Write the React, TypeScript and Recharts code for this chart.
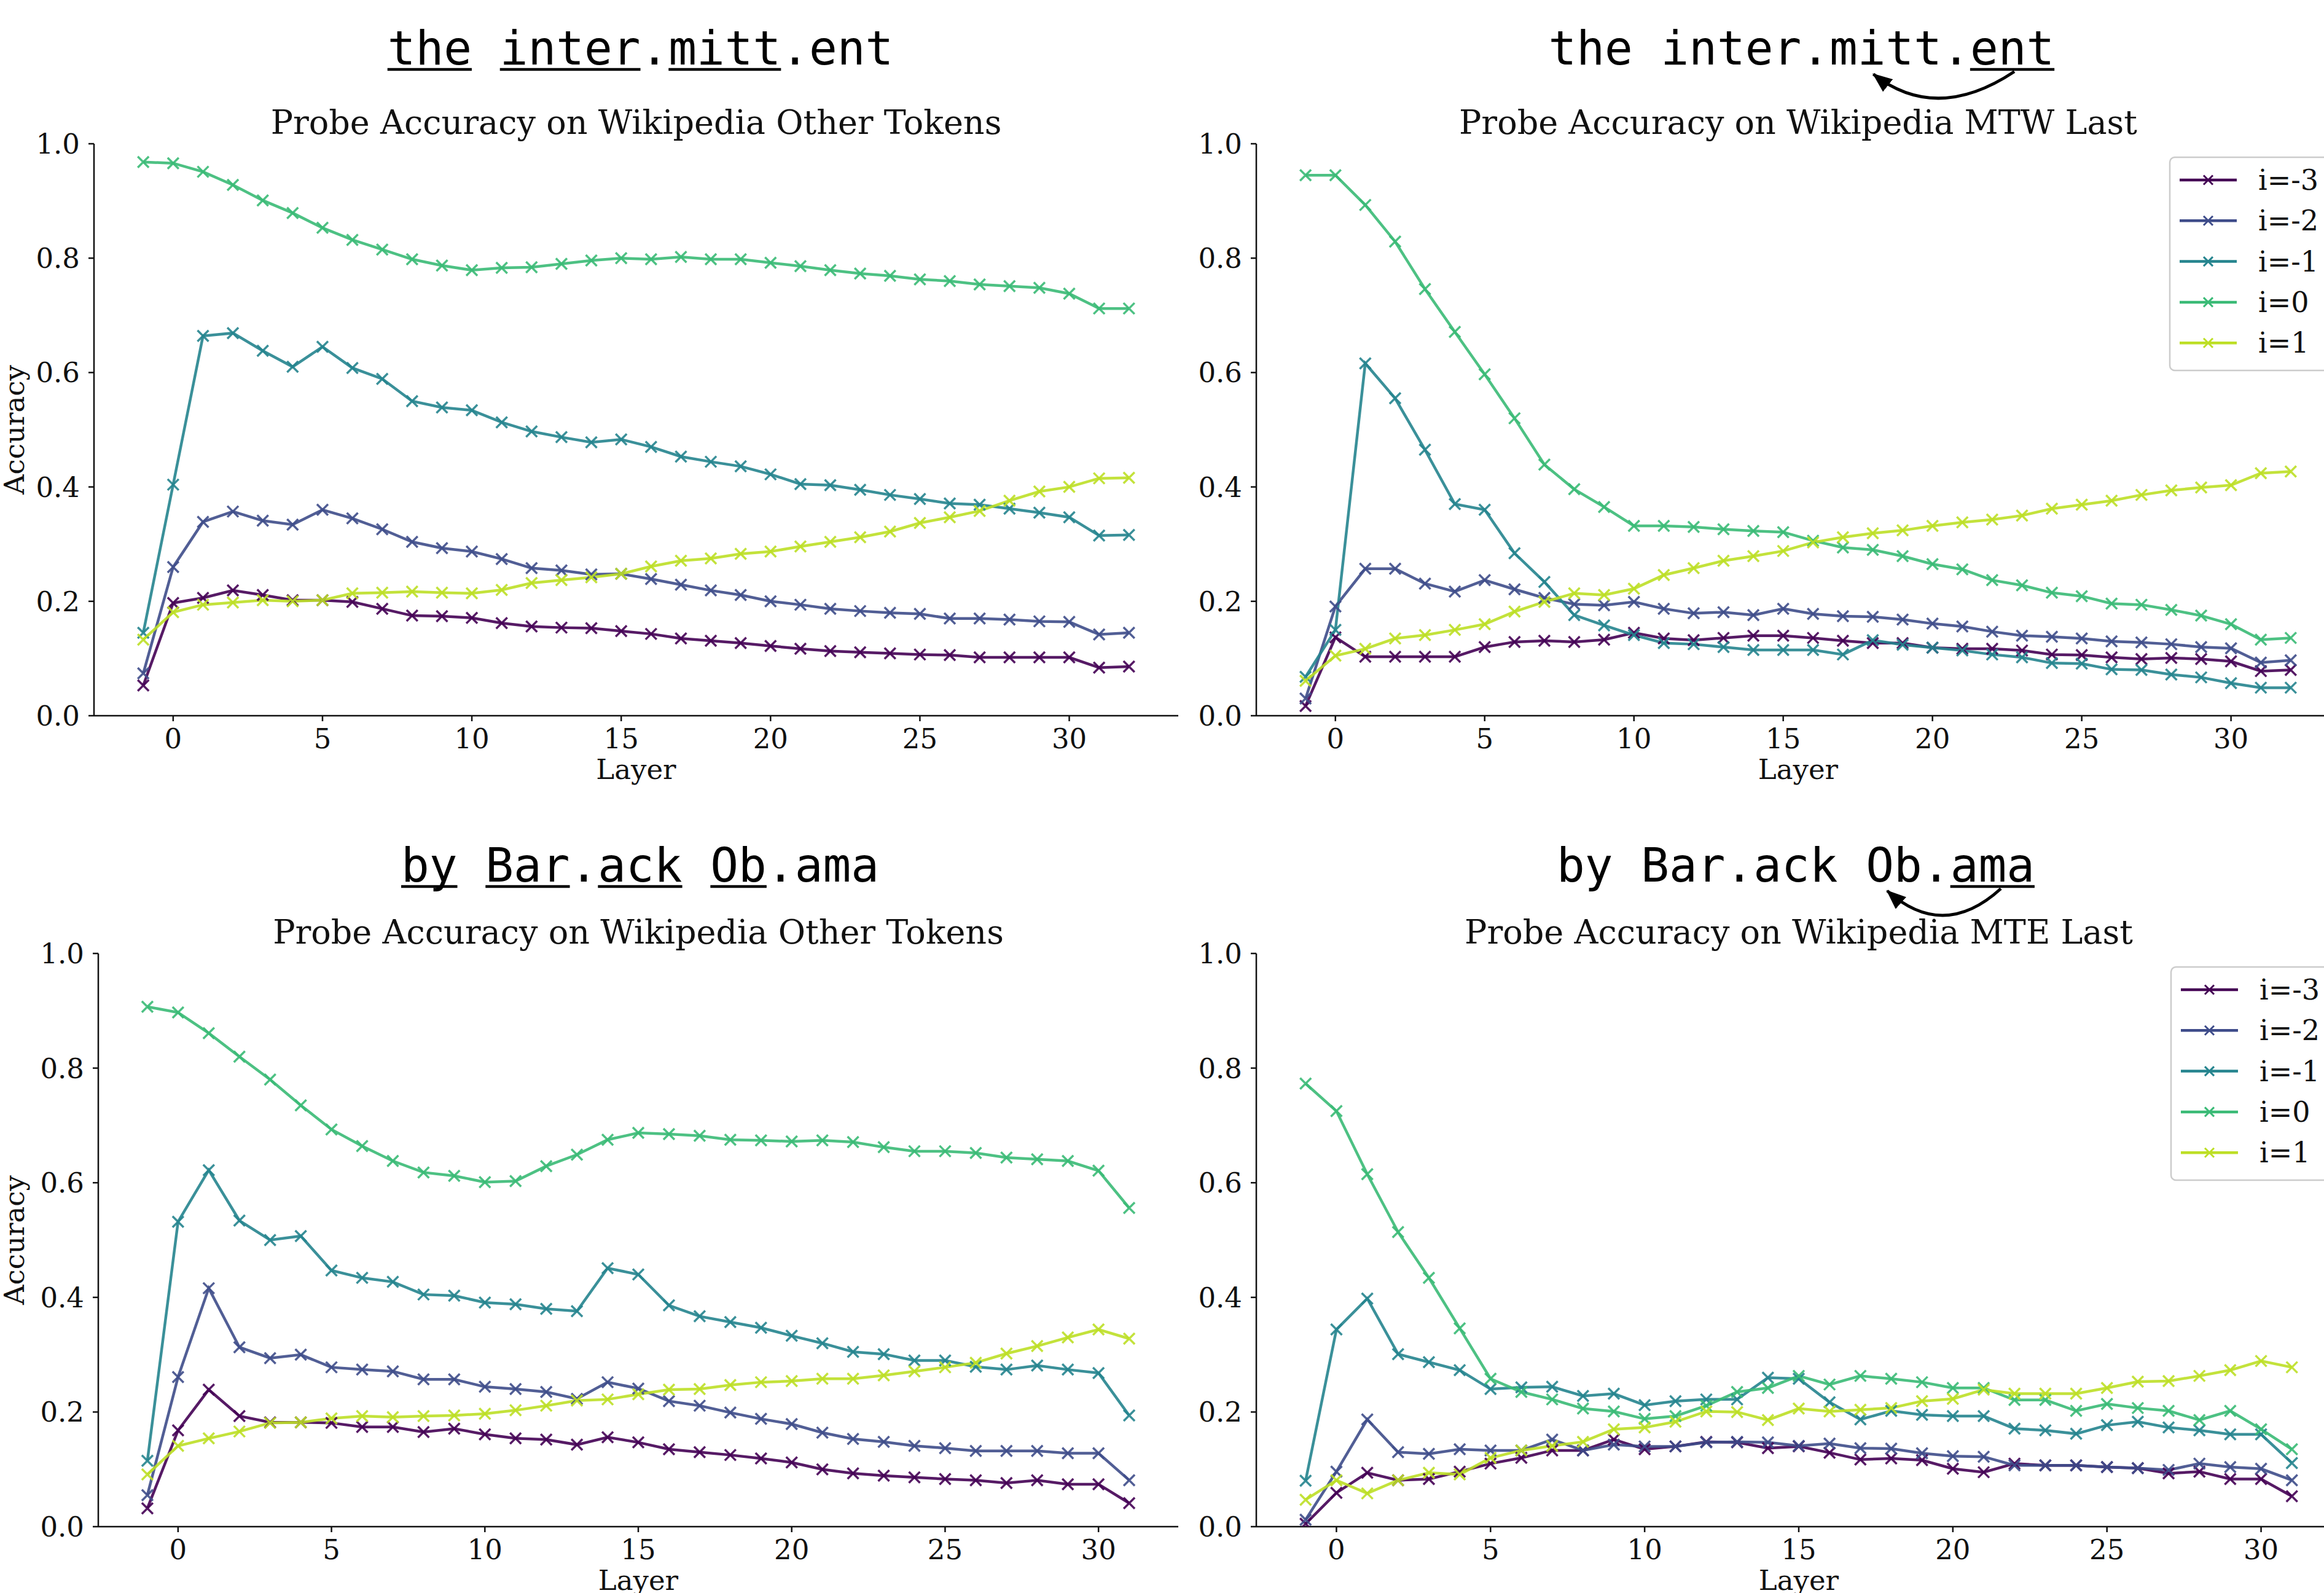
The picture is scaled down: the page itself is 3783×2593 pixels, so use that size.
import React from "react";
import { LineChart, Line, XAxis, YAxis } from "recharts";

// layer indices (x axis)
const LAYERS_TOP = [-1, 0, 1, 2, 3, 4, 5, 6, 7, 8, 9, 10, 11, 12, 13, 14, 15, 16, 17, 18, 19, 20, 21, 22, 23, 24, 25, 26, 27, 28, 29, 30, 31, 32];
const LAYERS_BOTTOM = [-1, 0, 1, 2, 3, 4, 5, 6, 7, 8, 9, 10, 11, 12, 13, 14, 15, 16, 17, 18, 19, 20, 21, 22, 23, 24, 25, 26, 27, 28, 29, 30, 31];
const X_TICKS = [0, 5, 10, 15, 20, 25, 30];
const Y_TICKS = [0, 0.2, 0.4, 0.6, 0.8, 1.0];

const SERIES = [
  { key: "m3", name: "i=-3", color: "#440154" },
  { key: "m2", name: "i=-2", color: "#3e4c8a" },
  { key: "m1", name: "i=-1", color: "#25848e" },
  { key: "z0", name: "i=0", color: "#3aba76" },
  { key: "p1", name: "i=1", color: "#bddf26" },
];

// top left: the inter.mitt.ent / Other Tokens
const TL_M3 = [0.053, 0.197, 0.206, 0.219, 0.211, 0.202, 0.202, 0.199, 0.187, 0.175, 0.174, 0.171, 0.162, 0.156, 0.154, 0.153, 0.148, 0.143, 0.135, 0.131, 0.127, 0.122, 0.117, 0.113, 0.111, 0.109, 0.107, 0.106, 0.102, 0.102, 0.102, 0.102, 0.084, 0.086];
const TL_M2 = [0.074, 0.26, 0.339, 0.357, 0.341, 0.334, 0.36, 0.345, 0.326, 0.304, 0.293, 0.287, 0.274, 0.258, 0.254, 0.247, 0.248, 0.239, 0.229, 0.219, 0.211, 0.2, 0.194, 0.187, 0.183, 0.18, 0.178, 0.17, 0.17, 0.168, 0.165, 0.164, 0.142, 0.145];
const TL_M1 = [0.145, 0.404, 0.664, 0.669, 0.638, 0.61, 0.645, 0.608, 0.589, 0.55, 0.539, 0.534, 0.513, 0.497, 0.487, 0.478, 0.483, 0.47, 0.453, 0.444, 0.436, 0.422, 0.405, 0.403, 0.395, 0.386, 0.379, 0.371, 0.369, 0.362, 0.355, 0.347, 0.315, 0.316];
const TL_Z0 = [0.968, 0.966, 0.951, 0.928, 0.901, 0.879, 0.853, 0.832, 0.815, 0.798, 0.787, 0.779, 0.783, 0.784, 0.79, 0.796, 0.8, 0.798, 0.802, 0.798, 0.798, 0.792, 0.786, 0.779, 0.773, 0.769, 0.763, 0.76, 0.754, 0.751, 0.748, 0.738, 0.712, 0.712];
const TL_P1 = [0.133, 0.181, 0.194, 0.198, 0.202, 0.2, 0.202, 0.214, 0.215, 0.217, 0.215, 0.214, 0.22, 0.232, 0.237, 0.242, 0.248, 0.261, 0.271, 0.275, 0.283, 0.287, 0.296, 0.304, 0.312, 0.322, 0.337, 0.347, 0.358, 0.376, 0.392, 0.4, 0.415, 0.416];

// top right: MTW Last
const TR_M3 = [0.017, 0.137, 0.103, 0.103, 0.103, 0.103, 0.12, 0.129, 0.131, 0.129, 0.133, 0.145, 0.135, 0.132, 0.136, 0.14, 0.14, 0.136, 0.131, 0.127, 0.127, 0.119, 0.117, 0.117, 0.114, 0.107, 0.106, 0.102, 0.099, 0.101, 0.099, 0.095, 0.078, 0.08];
const TR_M2 = [0.03, 0.191, 0.257, 0.257, 0.231, 0.217, 0.237, 0.221, 0.206, 0.195, 0.193, 0.199, 0.187, 0.179, 0.181, 0.176, 0.187, 0.178, 0.174, 0.173, 0.168, 0.161, 0.156, 0.147, 0.14, 0.138, 0.135, 0.13, 0.128, 0.125, 0.12, 0.118, 0.093, 0.097];
const TR_M1 = [0.068, 0.15, 0.616, 0.555, 0.465, 0.37, 0.36, 0.284, 0.234, 0.176, 0.158, 0.141, 0.127, 0.125, 0.12, 0.115, 0.115, 0.115, 0.107, 0.132, 0.124, 0.119, 0.114, 0.107, 0.102, 0.092, 0.091, 0.081, 0.08, 0.072, 0.067, 0.057, 0.049, 0.049];
const TR_Z0 = [0.945, 0.945, 0.893, 0.829, 0.746, 0.671, 0.597, 0.52, 0.439, 0.396, 0.365, 0.332, 0.332, 0.33, 0.326, 0.323, 0.321, 0.306, 0.294, 0.29, 0.279, 0.265, 0.256, 0.237, 0.228, 0.215, 0.209, 0.196, 0.194, 0.185, 0.175, 0.16, 0.133, 0.136];
const TR_P1 = [0.061, 0.105, 0.117, 0.135, 0.141, 0.15, 0.16, 0.182, 0.199, 0.214, 0.211, 0.222, 0.246, 0.258, 0.271, 0.279, 0.288, 0.303, 0.312, 0.319, 0.324, 0.332, 0.338, 0.343, 0.35, 0.362, 0.369, 0.376, 0.386, 0.394, 0.399, 0.403, 0.424, 0.427];

// bottom left: by Bar.ack Ob.ama / Other Tokens
const BL_M3 = [0.032, 0.168, 0.239, 0.193, 0.182, 0.182, 0.181, 0.174, 0.174, 0.165, 0.171, 0.161, 0.154, 0.152, 0.143, 0.156, 0.147, 0.135, 0.13, 0.125, 0.119, 0.112, 0.1, 0.093, 0.089, 0.086, 0.083, 0.081, 0.076, 0.081, 0.074, 0.074, 0.041];
const BL_M2 = [0.055, 0.261, 0.416, 0.313, 0.294, 0.3, 0.278, 0.274, 0.271, 0.257, 0.257, 0.244, 0.24, 0.235, 0.223, 0.252, 0.241, 0.219, 0.211, 0.199, 0.188, 0.179, 0.164, 0.153, 0.148, 0.141, 0.137, 0.132, 0.132, 0.132, 0.128, 0.128, 0.081];
const BL_M1 = [0.115, 0.532, 0.622, 0.534, 0.5, 0.507, 0.447, 0.434, 0.427, 0.405, 0.403, 0.391, 0.388, 0.38, 0.376, 0.451, 0.44, 0.386, 0.367, 0.357, 0.347, 0.333, 0.32, 0.305, 0.301, 0.29, 0.29, 0.279, 0.274, 0.281, 0.274, 0.268, 0.194];
const BL_Z0 = [0.907, 0.897, 0.861, 0.82, 0.78, 0.735, 0.693, 0.664, 0.638, 0.618, 0.612, 0.601, 0.603, 0.629, 0.649, 0.675, 0.687, 0.685, 0.682, 0.675, 0.674, 0.672, 0.674, 0.671, 0.662, 0.655, 0.655, 0.652, 0.644, 0.641, 0.638, 0.621, 0.556];
const BL_P1 = [0.091, 0.141, 0.154, 0.166, 0.181, 0.182, 0.189, 0.193, 0.191, 0.193, 0.194, 0.197, 0.203, 0.211, 0.22, 0.222, 0.231, 0.239, 0.24, 0.247, 0.252, 0.254, 0.258, 0.258, 0.264, 0.271, 0.278, 0.286, 0.302, 0.315, 0.33, 0.344, 0.328];

// bottom right: MTE Last
const BR_M3 = [0.005, 0.059, 0.094, 0.081, 0.083, 0.096, 0.11, 0.12, 0.133, 0.133, 0.152, 0.135, 0.14, 0.148, 0.147, 0.137, 0.14, 0.129, 0.117, 0.119, 0.116, 0.101, 0.095, 0.11, 0.107, 0.107, 0.104, 0.102, 0.093, 0.096, 0.083, 0.083, 0.053];
const BR_M2 = [0.012, 0.096, 0.187, 0.13, 0.127, 0.135, 0.133, 0.133, 0.152, 0.133, 0.143, 0.14, 0.14, 0.147, 0.148, 0.147, 0.141, 0.145, 0.137, 0.136, 0.128, 0.123, 0.122, 0.107, 0.107, 0.107, 0.104, 0.102, 0.099, 0.11, 0.104, 0.101, 0.081];
const BR_M1 = [0.08, 0.344, 0.398, 0.301, 0.287, 0.273, 0.24, 0.243, 0.244, 0.228, 0.232, 0.212, 0.219, 0.222, 0.222, 0.26, 0.258, 0.217, 0.187, 0.202, 0.195, 0.193, 0.193, 0.171, 0.168, 0.162, 0.177, 0.183, 0.173, 0.168, 0.161, 0.161, 0.111];
const BR_Z0 = [0.773, 0.725, 0.615, 0.514, 0.434, 0.346, 0.258, 0.235, 0.222, 0.206, 0.201, 0.188, 0.193, 0.211, 0.235, 0.242, 0.263, 0.248, 0.263, 0.258, 0.252, 0.242, 0.242, 0.221, 0.221, 0.202, 0.214, 0.207, 0.202, 0.186, 0.202, 0.17, 0.135];
const BR_P1 = [0.047, 0.081, 0.058, 0.081, 0.094, 0.091, 0.12, 0.133, 0.141, 0.148, 0.17, 0.173, 0.183, 0.201, 0.2, 0.186, 0.206, 0.201, 0.204, 0.207, 0.219, 0.223, 0.239, 0.232, 0.232, 0.232, 0.242, 0.253, 0.254, 0.263, 0.273, 0.289, 0.278];

const TITLES = [
  "Probe Accuracy on Wikipedia Other Tokens",
  "Probe Accuracy on Wikipedia MTW Last",
  "Probe Accuracy on Wikipedia Other Tokens",
  "Probe Accuracy on Wikipedia MTE Last",
];

// token strings shown above each panel, underlined pieces flagged
const HEADINGS = [
  [["the", 1], [" ", 0], ["inter", 1], [".", 0], ["mitt", 1], [".ent", 0]],
  [["the inter.mitt.", 0], ["ent", 1]],
  [["by", 1], [" ", 0], ["Bar", 1], [".", 0], ["ack", 1], [" ", 0], ["Ob", 1], [".ama", 0]],
  [["by Bar.ack Ob.", 0], ["ama", 1]],
] as [string, number][][];

const SERIF = "'DejaVu Serif', serif";
const MONO = "'DejaVu Sans Mono', monospace";
const FS = 45;
const YW = 153;
const TOP = 40;
const XH = 130;
const RIGHT = 30;
const MONO_FS = 76;
const ADV = MONO_FS * 0.6021;

const PANELS = [
  { layers: LAYERS_TOP, vals: [TL_M3, TL_M2, TL_M1, TL_Z0, TL_P1], left: 153, top: 234, w: 1765, h: 931, dom: [-2.65, 33.65], yLabel: true, legend: false, headX: 630.7, headY: 105, arrow: null },
  { layers: LAYERS_TOP, vals: [TR_M3, TR_M2, TR_M1, TR_Z0, TR_P1], left: 2045, top: 234, w: 1764, h: 931, dom: [-2.65, 33.65], yLabel: false, legend: true, headX: 2520.5, headY: 105, arrow: [3279, 116.5, 3152, 201, 3049.5, 120.7] },
  { layers: LAYERS_BOTTOM, vals: [BL_M3, BL_M2, BL_M1, BL_Z0, BL_P1], left: 160, top: 1552, w: 1758, h: 933, dom: [-2.6, 32.6], yLabel: true, legend: false, headX: 653, headY: 1435, arrow: null },
  { layers: LAYERS_BOTTOM, vals: [BR_M3, BR_M2, BR_M1, BR_Z0, BR_P1], left: 2045, top: 1552, w: 1766, h: 933, dom: [-2.6, 32.6], yLabel: false, legend: true, headX: 2534, headY: 1435, arrow: [3257, 1446.5, 3163.5, 1531.7, 3072, 1450] },
];

function crossPath(cx: number, cy: number, r: number) {
  return `M${cx - r},${cy - r}L${cx + r},${cy + r}M${cx - r},${cy + r}L${cx + r},${cy - r}`;
}

const crossDot = (color: string) => (props: any) => {
  const { cx, cy, index } = props;
  if (cx == null || cy == null) return <g key={index} />;
  return <path key={index} d={crossPath(cx, cy, 9)} stroke={color} strokeWidth={3.5} strokeOpacity={0.9} fill="none" />;
};

function Panel({ p }: { p: (typeof PANELS)[number] }) {
  const data = p.layers.map((layer, k) => {
    const row: Record<string, number> = { layer };
    SERIES.forEach((s, j) => (row[s.key] = p.vals[j][k]));
    return row;
  });
  const axisStyle = { stroke: "#111", strokeWidth: 2.5 };
  return (
    <div style={{ position: "absolute", left: p.left - YW, top: p.top - TOP }}>
      <LineChart width={YW + p.w + RIGHT} height={TOP + p.h + XH} data={data} margin={{ top: TOP, right: RIGHT, bottom: 0, left: 0 }}>
        <XAxis
          dataKey="layer"
          type="number"
          domain={p.dom}
          ticks={X_TICKS}
          allowDataOverflow
          height={XH}
          tickSize={9}
          tickMargin={12}
          axisLine={axisStyle}
          tickLine={axisStyle}
          tick={{ fill: "#111", fontSize: FS, fontFamily: SERIF }}
          label={{ value: "Layer", position: "insideBottom", offset: XH - 103, fill: "#111", fontSize: FS, fontFamily: SERIF }}
        />
        <YAxis
          type="number"
          domain={[0, 1]}
          ticks={Y_TICKS}
          allowDataOverflow
          width={YW}
          tickSize={9}
          tickMargin={14}
          axisLine={axisStyle}
          tickLine={axisStyle}
          tickFormatter={(v: number) => v.toFixed(1)}
          tick={{ fill: "#111", fontSize: FS, fontFamily: SERIF }}
        />
        {SERIES.map((s) => (
          <Line
            key={s.key}
            type="linear"
            dataKey={s.key}
            name={s.name}
            stroke={s.color}
            strokeWidth={4.5}
            strokeOpacity={0.9}
            dot={crossDot(s.color)}
            activeDot={false}
            isAnimationActive={false}
          />
        ))}
      </LineChart>
    </div>
  );
}

function Heading({ tokens, x, y }: { tokens: [string, number][]; x: number; y: number }) {
  const text = tokens.map((t) => t[0]).join("");
  let idx = 0;
  const lines: React.ReactNode[] = [];
  tokens.forEach(([t, u], k) => {
    if (u) lines.push(<line key={k} x1={x + idx * ADV} x2={x + (idx + t.length) * ADV} y1={y + 8} y2={y + 8} stroke="#000" strokeWidth={4.5} />);
    idx += t.length;
  });
  return (
    <g>
      <text x={x} y={y} fontFamily={MONO} fontSize={MONO_FS} fill="#000" xmlSpace="preserve" textLength={text.length * ADV} lengthAdjust="spacing">
        {text}
      </text>
      {lines}
    </g>
  );
}

function Legend({ x, y }: { x: number; y: number }) {
  return (
    <g>
      <rect x={x} y={y} width={320} height={347} rx={8} fill="#fff" fillOpacity={0.8} stroke="#cccccc" strokeWidth={2.5} />
      {SERIES.map((s, k) => {
        const cy = y + 37 + k * 66.3;
        return (
          <g key={s.key}>
            <line x1={x + 16} x2={x + 109} y1={cy} y2={cy} stroke={s.color} strokeWidth={4.5} />
            <path d={crossPath(x + 62.5, cy, 7.5)} stroke={s.color} strokeWidth={3} fill="none" />
            <text x={x + 144} y={cy + 16} fontFamily={SERIF} fontSize={FS + 1} fill="#111">
              {s.name}
            </text>
          </g>
        );
      })}
    </g>
  );
}

export default function App() {
  return (
    <div style={{ position: "absolute", left: 0, top: 0, width: 3783, height: 2593, overflow: "hidden", background: "#fff" }}>
      {PANELS.map((p, i) => (
        <Panel key={i} p={p} />
      ))}
      <svg width={3783} height={2593} style={{ position: "absolute", left: 0, top: 0, pointerEvents: "none" }}>
        <defs>
          <marker id="ahead" markerUnits="userSpaceOnUse" markerWidth={34} markerHeight={26} refX={30} refY={13} orient="auto">
            <path d="M0,0 L32,13 L0,26 z" fill="#000" />
          </marker>
        </defs>
        {PANELS.map((p, i) => {
          const cx = p.left + p.w / 2;
          return (
            <g key={i}>
              <text x={cx} y={p.top - 16} textAnchor="middle" fontFamily={SERIF} fontSize={54} fill="#111">
                {TITLES[i]}
              </text>
              <Heading tokens={HEADINGS[i]} x={p.headX} y={p.headY} />
              {p.arrow && (
                <path
                  d={`M${p.arrow[0]},${p.arrow[1]} Q${p.arrow[2]},${p.arrow[3]} ${p.arrow[4]},${p.arrow[5]}`}
                  stroke="#000"
                  strokeWidth={5}
                  fill="none"
                  markerEnd="url(#ahead)"
                />
              )}
              {p.yLabel && (
                <text transform={`translate(39, ${p.top + p.h / 2}) rotate(-90)`} textAnchor="middle" fontFamily={SERIF} fontSize={FS} fill="#111">
                  Accuracy
                </text>
              )}
              {p.legend && <Legend x={p.left + p.w - 277} y={p.top + 22} />}
            </g>
          );
        })}
      </svg>
    </div>
  );
}
